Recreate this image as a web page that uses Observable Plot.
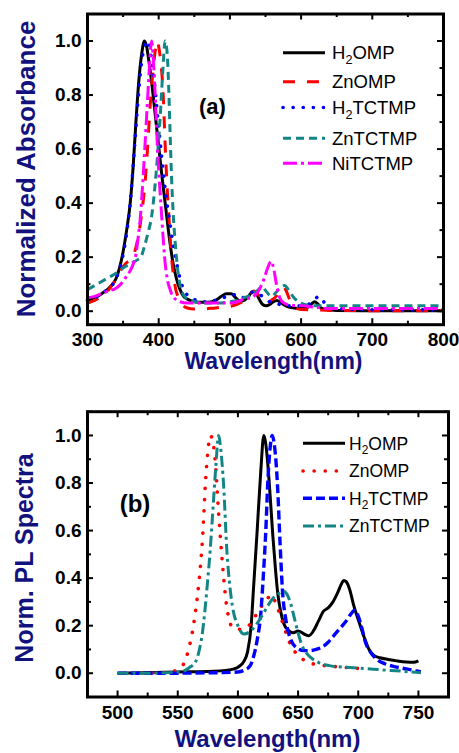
<!DOCTYPE html>
<html><head><meta charset="utf-8">
<script src="https://cdn.jsdelivr.net/npm/d3@7"></script>
<script src="https://cdn.jsdelivr.net/npm/@observablehq/plot@0.6"></script>
<style>
body{margin:0;background:#fff;}
#wrap{position:relative;width:459px;height:753px;overflow:hidden;font-family:"Liberation Sans",Arial,sans-serif;}
#wrap > svg{position:absolute;left:0;}
</style></head><body><div id="wrap"></div>
<script>
// ---------- Panel (a): absorbance ----------
const namesA = ["H2OMP","ZnOMP","H2TCTMP","ZnTCTMP","NiTCTMP"];
const absH2OMP = [[300,.04],[310,.05],[320,.065],[330,.085],[340,.12],[345,.16],[350,.22],[355,.3],[360,.4],[364,.53],[368,.7],[372,.85],[376,.95],[380,1.0],[383,.98],[386,.93],[390,.85],[395,.73],[400,.61],[405,.49],[410,.38],[415,.27],[420,.18],[425,.12],[430,.08],[435,.055],[440,.045],[450,.035],[460,.033],[470,.033],[480,.04],[488,.055],[495,.065],[502,.065],[508,.05],[514,.037],[520,.04],[526,.055],[532,.073],[536,.07],[541,.045],[546,.025],[551,.02],[556,.025],[561,.035],[566,.04],[571,.033],[577,.022],[583,.015],[590,.012],[600,.01],[610,.015],[615,.028],[619,.035],[623,.028],[628,.012],[635,.006],[650,.003],[700,.002],[800,.002]];
const absZnOMP = [[300,.03],[310,.04],[320,.055],[330,.08],[340,.12],[350,.165],[355,.18],[360,.19],[365,.21],[370,.26],[374,.32],[377,.38],[381,.48],[384,.59],[388,.76],[391,.86],[394,.94],[396.5,.985],[398,1.0],[400,.98],[403,.92],[406,.82],[409,.62],[412,.45],[415,.32],[418,.2],[421,.13],[424,.08],[428,.05],[433,.025],[440,.012],[450,.008],[460,.008],[470,.01],[480,.012],[490,.015],[500,.018],[510,.025],[520,.04],[528,.06],[534,.075],[540,.06],[547,.035],[552,.03],[558,.04],[565,.055],[570,.075],[575,.09],[580,.07],[585,.035],[590,.015],[600,.006],[620,.005],[640,.003],[700,.002],[800,.002]];
const absH2TCTMP = [[300,.04],[310,.05],[320,.065],[330,.085],[340,.12],[350,.21],[355,.29],[360,.4],[365,.57],[370,.75],[375,.9],[380,.98],[385,1.0],[390,.93],[395,.82],[400,.68],[405,.55],[410,.43],[415,.34],[420,.25],[425,.18],[430,.12],[435,.08],[440,.06],[447,.045],[455,.04],[465,.035],[475,.037],[485,.045],[493,.052],[500,.056],[510,.062],[518,.05],[525,.06],[532,.07],[540,.06],[547,.055],[553,.04],[560,.03],[570,.025],[580,.02],[590,.02],[600,.02],[610,.025],[618,.04],[625,.055],[630,.04],[640,.015],[660,.008],[700,.005],[800,.005]];
const absZnTCTMP = [[300,.08],[310,.095],[320,.11],[330,.125],[340,.14],[350,.16],[360,.175],[370,.19],[375,.2],[380,.24],[385,.29],[390,.35],[395,.47],[399,.6],[403,.76],[406,.9],[409,1.0],[412,.95],[414,.83],[416,.66],[418,.5],[420,.38],[423,.26],[426,.17],[429,.11],[433,.07],[438,.05],[445,.04],[455,.033],[470,.03],[485,.03],[500,.035],[510,.04],[520,.05],[530,.06],[538,.075],[545,.09],[552,.07],[558,.055],[565,.07],[572,.09],[577,.095],[582,.08],[590,.05],[600,.03],[610,.022],[620,.02],[640,.02],[700,.02],[800,.02]];
const absNiTCTMP = [[300,.05],[310,.055],[320,.065],[330,.075],[340,.085],[350,.11],[355,.13],[360,.15],[365,.18],[368,.21],[371,.27],[374,.34],[377,.45],[380,.58],[383,.72],[386,.86],[388,.95],[390,1.0],[392,.95],[394,.86],[396,.74],[398,.62],[400,.52],[403,.4],[406,.28],[409,.18],[412,.12],[416,.08],[420,.055],[430,.035],[440,.03],[460,.03],[480,.03],[500,.03],[510,.035],[520,.045],[530,.05],[540,.075],[548,.12],[553,.16],[558,.185],[562,.15],[566,.09],[570,.05],[576,.03],[585,.022],[600,.02],[620,.015],[640,.01],[700,.01],[800,.01]];
const xMajA = [300,400,500,600,700,800];
const xMinA = [350,450,550,650,750];
const yMajA = [0,0.2,0.4,0.6,0.8,1.0];
const yMinA = [0.1,0.3,0.5,0.7,0.9];

// ---------- Panel (b): PL spectra ----------
const namesB = ["H2OMP","ZnOMP","H2TCTMP","ZnTCTMP"];
const plH2OMP = [[500,0],[520,.002],[540,.004],[560,.006],[580,.008],[590,.012],[596,.017],[600,.025],[605,.05],[608,.09],[611,.2],[613,.36],[616,.6],[619,.85],[621.5,1.0],[623,.97],[625,.87],[627,.73],[629,.58],[631,.45],[633,.34],[635.5,.26],[638,.21],[642,.18],[646,.17],[650,.178],[655,.165],[659,.158],[663,.18],[667,.22],[671,.26],[675,.275],[679,.3],[683,.34],[686,.375],[688,.39],[690,.385],[693,.35],[696,.29],[701,.21],[705,.15],[709,.1],[713,.075],[718,.065],[725,.058],[732,.052],[740,.047],[746,.046],[750,.052]];
const plZnOMP = [[520,0],[540,.003],[548,.01],[555,.04],[559,.1],[562,.17],[566,.31],[569,.46],[571,.6],[573,.8],[575,.93],[577,1.0],[579,.98],[581,.9],[584,.67],[587,.47],[591,.27],[596,.19],[602,.185],[610,.205],[618,.27],[624,.31],[628,.33],[631,.3],[634,.26],[638,.2],[642,.14],[646,.1],[650,.075],[655,.055],[662,.04],[672,.032],[685,.026],[700,.02]];
const plH2TCTMP = [[500,0],[540,0],[580,.002],[600,.005],[605,.012],[610,.03],[613,.07],[616,.14],[619,.25],[621,.4],[623,.58],[625,.82],[627,.96],[628.5,1.0],[630,.97],[631.5,.9],[633,.78],[635,.55],[637,.35],[640,.22],[644,.14],[648,.11],[655,.095],[660,.095],[665,.1],[670,.11],[675,.13],[680,.16],[685,.19],[690,.22],[694,.25],[697,.265],[700,.24],[703,.19],[706,.13],[710,.09],[715,.06],[722,.04],[730,.028],[740,.018],[748,.01],[752,.006]];
const plZnTCTMP = [[500,0],[520,0],[540,.002],[555,.01],[560,.025],[565,.05],[568,.1],[570.5,.17],[572.5,.26],[574.5,.37],[577,.52],[579,.67],[581.5,.86],[584,1.0],[586,.93],[588,.8],[591,.5],[593,.38],[595.5,.28],[600,.2],[605,.165],[610,.175],[616,.21],[621,.25],[625,.285],[630,.32],[634,.335],[638,.345],[641,.33],[644,.29],[647,.23],[650,.17],[653,.12],[657,.085],[662,.06],[668,.043],[676,.032],[690,.025],[705,.02],[720,.014],[735,.009],[745,.005],[752,.002]];
const xMajB = [500,550,600,650,700,750];
const xMinB = [475,525,575,625,675,725,775];
const yMajB = [0,0.2,0.4,0.6,0.8,1.0];
const yMinB = [-0.1,0.1,0.3,0.5,0.7,0.9,1.1];

// ---------- styles ----------
const stylesA = [
  {stroke:"#000000", strokeWidth:3, strokeDasharray:null, strokeLinecap:"butt"},
  {stroke:"#ff0000", strokeWidth:3, strokeDasharray:"12 12", strokeLinecap:"butt"},
  {stroke:"#0000ff", strokeWidth:3.6, strokeDasharray:"0.1 10", strokeLinecap:"round"},
  {stroke:"#138585", strokeWidth:3, strokeDasharray:"8 5", strokeLinecap:"butt"},
  {stroke:"#ff00ff", strokeWidth:3, strokeDasharray:"14 4 3 4", strokeLinecap:"butt"}
];
const stylesB = [
  {stroke:"#000000", strokeWidth:3, strokeDasharray:null, strokeLinecap:"butt"},
  {stroke:"#ff0000", strokeWidth:3.6, strokeDasharray:"0.1 11", strokeLinecap:"round"},
  {stroke:"#0000ff", strokeWidth:3.4, strokeDasharray:"9 4", strokeLinecap:"butt"},
  {stroke:"#138585", strokeWidth:3, strokeDasharray:"11 4 3 4", strokeLinecap:"butt"}
];
const NAVY = "#12127e";
const FONT = "'Liberation Sans', Arial, sans-serif";

function panel({data, styles, xDomain, yDomain, xMaj, xMin, yMaj, yMin, m, height, majLen, minLen, top, pad}) {
  const W = 459;
  const iw = W - m.left - m.right, ih = height - m.top - m.bottom;
  const marks = [];
  data.forEach((d, i) => marks.push(Plot.line(d, {x: p => p[0], y: p => p[1], curve: "monotone-x", ...styles[i]})));
  const tk = (vals, len, w) => [
    Plot.ruleX(vals, {insetTop: ih - len, strokeWidth: w}),
    Plot.ruleX(vals, {insetBottom: ih - len, strokeWidth: w}),
  ];
  const tky = (vals, len, w) => [
    Plot.ruleY(vals, {insetRight: iw - len, strokeWidth: w}),
    Plot.ruleY(vals, {insetLeft: iw - len, strokeWidth: w}),
  ];
  marks.push(...tk(xMaj, majLen, 2), ...tk(xMin, minLen, 2), ...tky(yMaj, majLen, 2), ...tky(yMin, minLen, 2));
  marks.push(Plot.frame({strokeWidth: 3}));
  marks.push(Plot.axisX({ticks: xMaj, tickSize: 0, tickPadding: pad, tickFormat: d3.format("d"), fontSize: 19, fontWeight: "bold", label: null}));
  marks.push(Plot.axisY({ticks: yMaj, tickSize: 0, tickPadding: 6, tickFormat: d3.format(".1f"), fontSize: 19, fontWeight: "bold", label: null}));
  const svg = Plot.plot({
    width: W, height,
    marginLeft: m.left, marginRight: m.right, marginTop: m.top, marginBottom: m.bottom,
    x: {domain: xDomain, label: null},
    y: {domain: yDomain, label: null},
    style: {fontFamily: FONT, color: "#000", background: "transparent", overflow: "visible"},
    marks
  });
  svg.style.top = top + "px";
  return svg;
}

const wrap = document.getElementById("wrap");
wrap.appendChild(panel({
  data: [absH2OMP, absZnOMP, absH2TCTMP, absZnTCTMP, absNiTCTMP], styles: stylesA,
  xDomain: [300, 800], yDomain: [-0.05, 1.1], xMaj: xMajA, xMin: xMinA, yMaj: yMajA, yMin: yMinA,
  m: {left: 87, right: 16, top: 13.5, bottom: 55.8}, height: 380, majLen: 6, minLen: 3.5, top: 0, pad: 7.5
}));
wrap.appendChild(panel({
  data: [plH2OMP, plZnOMP, plH2TCTMP, plZnTCTMP], styles: stylesB,
  xDomain: [475, 775], yDomain: [-0.1, 1.1], xMaj: xMajB, xMin: xMinB, yMaj: yMajB, yMin: yMinB,
  m: {left: 87, right: 11, top: 31.2, bottom: 56.5}, height: 373, majLen: 6, minLen: 4, top: 380, pad: 8
}));

// ---------- overlay: titles, panel labels, legends ----------
const ov = d3.select(wrap).append("svg").attr("width", 459).attr("height", 753)
  .style("top", "0px").style("pointer-events", "none").style("font-family", FONT);

function title(x, y, text, size, rotate) {
  const t = ov.append("text").attr("text-anchor", "middle").attr("font-weight", "bold")
    .attr("font-size", size).attr("fill", NAVY).text(text);
  t.attr("transform", rotate ? `translate(${x},${y}) rotate(-90)` : `translate(${x},${y})`);
}
title(35, 169, "Normalized Absorbance", 26, true);
title(273.5, 369, "Wavelength(nm)", 23, false);
title(33, 558, "Norm. PL Spectra", 25, true);
title(267.5, 746.5, "Wavelength(nm)", 24, false);

ov.append("text").attr("x", 212.5).attr("y", 114).attr("text-anchor", "middle")
  .attr("font-weight", "bold").attr("font-size", 22).text("(a)");
ov.append("text").attr("x", 135).attr("y", 512).attr("text-anchor", "middle")
  .attr("font-weight", "bold").attr("font-size", 24).text("(b)");

function legend(names, styles, x1, x2, tx, centers, size) {
  names.forEach((name, i) => {
    const cy = centers[i], s = styles[i];
    ov.append("line").attr("x1", x1).attr("x2", x2).attr("y1", cy).attr("y2", cy)
      .attr("stroke", s.stroke).attr("stroke-width", s.strokeWidth)
      .attr("stroke-dasharray", s.strokeDasharray).attr("stroke-linecap", s.strokeLinecap);
    const t = ov.append("text").attr("x", tx).attr("y", cy + size * 0.36).attr("font-size", size).attr("fill", "#000");
    const mm = name.match(/^H2(.*)$/);
    if (mm) {
      t.append("tspan").text("H");
      t.append("tspan").attr("font-size", size * 0.68).attr("dy", size * 0.25).text("2");
      t.append("tspan").attr("dy", -size * 0.25).text(mm[1]);
    } else t.text(name);
  });
}
legend(namesA, stylesA, 283, 325, 332, [52.7, 81.7, 107.5, 138.3, 163.3], 18.5);
legend(namesB, stylesB, 303, 345, 349, [443.3, 471, 498.3, 526], 17.5);
</script></body></html>
